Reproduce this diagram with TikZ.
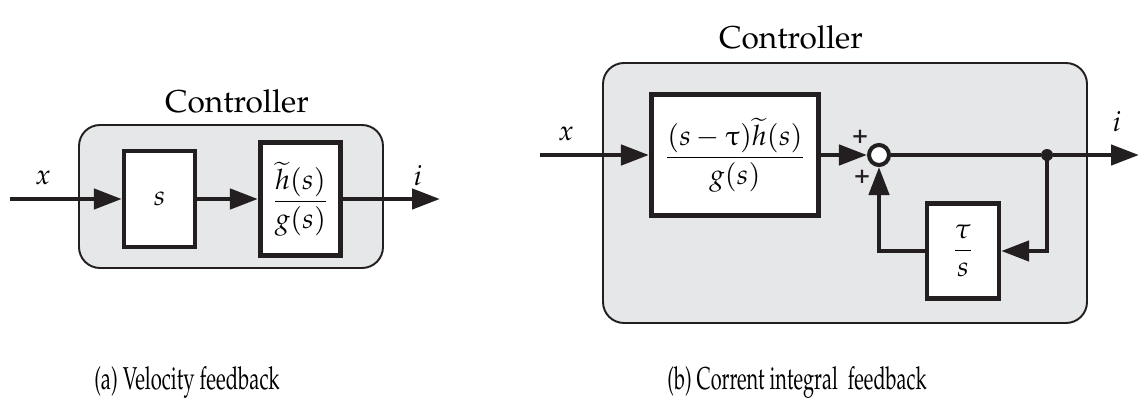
\documentclass[tikz,border=0pt]{standalone}
\usepackage[T1]{fontenc}
\usepackage{amsmath,amssymb}
\usepackage{mathpazo}
\usepackage{upgreek}
\usepackage{tikz}
\usetikzlibrary{arrows.meta,positioning,calc}
\usepackage{xcolor}
\definecolor{ctrlgray}{RGB}{230,231,232}
\definecolor{lineblk}{RGB}{35,31,32}

\begin{document}
\begin{tikzpicture}[x=0.02cm, y=-0.02cm,
    font=\fontsize{16}{19}\selectfont,
    ctrl/.style={draw=lineblk, fill=ctrlgray, line width=1.1pt, rounded corners=0.42cm},
    block/.style={draw=lineblk, fill=white, line width=2.5pt, inner sep=0pt},
    sumnode/.style={circle, draw=lineblk, fill=white, line width=2.3pt,
                    minimum size=0.4cm, inner sep=0pt},
    arr/.style={-{Triangle[length=0.56cm, width=0.4cm]}, line width=2.6pt, lineblk},
    line/.style={line width=2.6pt, lineblk},
    plus/.style={font=\bfseries\fontsize{15}{15}\selectfont, inner sep=0pt, text=lineblk}
]
\useasboundingbox (0,0) rectangle (1140,419);

% (a) Velocity feedback
\draw[ctrl] (79,125) rectangle (383,268);
\node[font=\fontsize{18}{21}\selectfont] (ctrlA) at (237,101) {Controller};
\node[block, minimum width=1.42cm, minimum height=1.92cm] (sblk) at (159.5,199) {$s$};
\node[block, line width=2.9pt, minimum width=1.6cm, minimum height=2.26cm] (hgblk) at (300.5,199)
    {$\dfrac{\widetilde{h}(s)}{g(s)}$};
\coordinate (inA) at (10,199);
\coordinate (outA) at (440,199);
\draw[arr] (inA) -- (sblk);
\draw[arr] (sblk) -- (hgblk);
\draw[arr] (hgblk) -- (outA);
\node (xA) at (43,178) {$x$};
\node (iA) at (418,176) {$i$};
\node (capA) at (187,383) {\scalebox{0.64}[1]{\fontsize{18}{21}\selectfont(a) Velocity feedback}};

% (b) Corrent integral feedback
\draw[ctrl] (603,63) rectangle (1087,323);
\node[font=\fontsize{18}{21}\selectfont] (ctrlB) at (791,37) {Controller};
\node[block, line width=2.9pt, minimum width=3.34cm, minimum height=2.42cm] (bigblk) at (735,155)
    {$\dfrac{(s-\uptau)\widetilde{h}(s)}{g(s)}$};
\node[sumnode] (sum) at (879,155) {};
\node[circle, fill=lineblk, minimum size=0.24cm, inner sep=0pt] (dot) at (1047,155) {};
\node[block, minimum width=1.44cm, minimum height=1.9cm] (tblk) at (963,251)
    {$\dfrac{\tau}{s}$};
\coordinate (inB) at (540,155);
\coordinate (outB) at (1139,155);
\draw[arr] (inB) -- (bigblk);
\draw[arr] (bigblk) -- (sum);
\draw[line] (sum) -- (dot);
\draw[arr] (dot) -- (outB);
\draw[arr] (dot.center) |- (tblk.east);
\draw[arr] (tblk.west) -| (sum.south);
\node[plus] (plusA) at (860,137) {+};
\node[plus] (plusB) at (862,177) {+};
\node (xB) at (566,134) {$x$};
\node (iB) at (1117,122) {$i$};
\node (capB) at (797,383) {\scalebox{0.63}[1]{\fontsize{18}{21}\selectfont(b) Corrent integral~ feedback}};

\end{tikzpicture}
\end{document}
